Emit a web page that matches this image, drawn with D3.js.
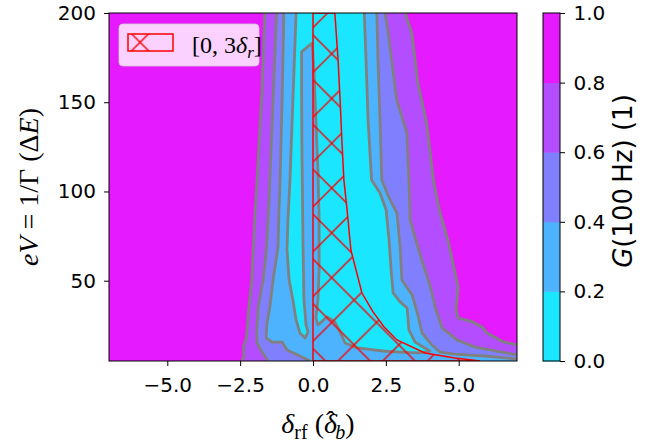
<!DOCTYPE html>
<html>
<head>
<meta charset="utf-8">
<script src="https://cdn.jsdelivr.net/npm/d3@7"></script>
<style>
	body { margin: 0; background: #fff; }
	.serif { font-family: "Liberation Serif", "DejaVu Serif", serif; }
</style>
</head>
<body>
<div id="chart-area"></div>
<script>

// contour levels of G(100 Hz)
const levels = [0, 0.2, 0.4, 0.6, 0.8, 1.0];

// contour lines, as [delta_rf, eV] points (top -> bottom)
const edge08Left = [[-1.65,200],[-1.75,156.9],[-1.92,106.4],[-1.99,87.9],[-2.05,68.9],[-2.10,50.4],[-2.22,31.9],[-2.28,18.4],[-2.39,12.8],[-2.37,7.8],[-2.44,5]];
const edge08Right = [[3.16,200],[3.39,188.8],[3.60,160.8],[3.90,138.4],[4.01,123.2],[4.13,106.4],[4.36,87.9],[4.63,72.8],[4.80,59.9],[4.98,46.5],[4.91,33.6],[4.98,29.1],[5.49,26.9],[5.80,24.1],[5.97,20.7],[6.52,15.8],[7,14]];

const edge06Left = [[-1.25,200],[-1.37,151.3],[-1.48,106.4],[-1.53,87.9],[-1.59,68.9],[-1.71,50.4],[-1.88,35.3],[-1.93,22.4],[-1.92,15.1],[-1.75,10],[-1.54,5]];
const edge06Right = [[2.47,200],[2.58,188.8],[2.87,151.3],[3.22,132.8],[3.29,106.4],[3.33,84],[3.73,61.6],[4.01,47.6],[4.22,33.6],[4.43,23.5],[4.94,16.8],[5.56,12.8],[6.07,11.2],[7,8.4]];

const edge04Left = [[-1.00,200],[-1.06,151.3],[-1.13,106.4],[-1.17,87.9],[-1.20,68.9],[-1.37,50.4],[-1.48,35.3],[-1.58,26.3],[-1.61,17.9],[-1.41,15.6],[-1.06,15.6],[-0.89,11.2],[-0.45,7.8],[-0.10,5]];
const edge04Right = [[2.19,200],[2.23,173.7],[2.30,140],[2.36,106.4],[2.57,98],[2.88,87.9],[2.99,68.9],[3.05,50.4],[3.40,42],[3.60,30.8],[3.74,20.7],[4.08,14],[4.36,10],[4.87,8.9],[5.90,7.8],[7,6.1]];

// the 0.2 line is one piece: down the left, round the finger, along the bottom and back up
const edge02 = [[-0.58,200],[-0.69,151.3],[-0.79,106.4],[-0.86,84],[-0.89,67.2],[-0.82,50.4],[-0.69,39.2],[-0.58,28],[-0.45,20.7],[-0.27,17.9],[-0.17,21.3],[-0.24,25.2],[-0.31,39.2],[-0.34,67.2],[-0.36,95.2],[-0.38,123.2],[-0.39,151.3],[-0.39,178.2],[-0.03,183.2],[0.03,168.1],[0.10,140],[0.17,112],[0.21,84],[0.21,56],[0.17,39.2],[0.10,29.1],[0.17,25.2],[0.48,29.7],[0.75,26.9],[0.93,21.3],[1.10,15.1],[1.51,12.3],[2.40,10.6],[2.99,10],[3.67,9.5],[4.01,10.6],[3.84,12.3],[3.50,15.6],[3.29,22.4],[3.23,34.7],[2.99,38.1],[2.75,43.1],[2.68,56],[2.61,72.8],[2.51,89.6],[2.30,99.1],[2.01,106.4],[1.89,140],[1.82,173.7],[1.76,200]];

// hatched band [0, 3 delta_r]
const hatchEV = [200, 173.7, 151.3, 128.8, 106.4, 89.6, 67.2, 43.1, 32.5, 24.1, 16.8, 9.5, 6.7, 5];
const hatchRight = [0.75, 0.86, 0.93, 0.99, 1.06, 1.17, 1.30, 1.68, 2.06, 2.44, 2.88, 3.84, 4.87, 5.73];

const xTicks = [-5, -2.5, 0, 2.5, 5];
const yTicks = [50, 100, 150, 200];
const cbTicks = [0, 0.2, 0.4, 0.6, 0.8, 1.0];

let fullWidth = 664, fullHeight = 445;
let margin = {top: 13, right: 147, bottom: 84, left: 109};
let width = fullWidth - margin.left - margin.right;
let height = fullHeight - margin.top - margin.bottom;

let svg = d3.select("#chart-area").append("svg")
		.attr("width", fullWidth)
		.attr("height", fullHeight);
let g = svg.append("g")
		.attr("transform", "translate(" + margin.left + "," + margin.top + ")");

let x = d3.scaleLinear().domain([-7, 7]).range([0, width]);
let y = d3.scaleLinear().domain([5, 200]).range([height, 0]);

// matplotlib "cool", sampled at the middle of each band
let cool = d3.interpolateRgb("#00ffff", "#ff00ff");
let bandColor = i => cool((levels[i] + levels[i + 1]) / 2);

// hatch pattern (x), anchored to the figure like matplotlib does
let hatchStep = 44.8;
let pattern = svg.append("defs").append("pattern")
	.attr("id", "hatch")
	.attr("patternUnits", "userSpaceOnUse")
	.attr("width", hatchStep)
	.attr("height", hatchStep)
	.attr("x", 18.1 - margin.left)
	.attr("y", 8.9 - margin.top);
pattern.append("path")
	.attr("d", `M-2,-2L${hatchStep + 2},${hatchStep + 2}M${hatchStep + 2},-2L-2,${hatchStep + 2}`)
	.attr("stroke", "red")
	.attr("stroke-width", 1.4)
	.attr("fill", "none");

g.append("clipPath").attr("id", "plot-clip")
	.append("rect").attr("width", width).attr("height", height);

let plot = g.append("g").attr("clip-path", "url(#plot-clip)");

// top band fills the whole axes, lower bands are painted inside
plot.append("rect")
	.attr("width", width)
	.attr("height", height)
	.attr("fill", bandColor(levels.length - 2));

let line = d3.line().x(d => x(d[0])).y(d => y(d[1]));

let contours = [
	{level: 0.8, left: edge08Left, right: edge08Right},
	{level: 0.6, left: edge06Left, right: edge06Right},
	{level: 0.4, left: edge04Left, right: edge04Right},
	{level: 0.2, left: edge02, right: []}
];

contours.forEach(c => {
	let pts = c.left.slice();
	let right = c.right.slice().reverse();
	let lastLeft = c.left[c.left.length - 1];
	if (right.length && lastLeft[1] === y.domain()[0] && right[0][0] === x.domain()[1]) {
		pts.push([x.domain()[1], y.domain()[0]]);
	}
	pts = pts.concat(right);
	plot.append("path")
		.attr("d", line(pts) + "Z")
		.attr("fill", bandColor(levels.indexOf(c.level) - 1));
});

contours.forEach(c => {
	[c.left, c.right].filter(a => a.length).forEach(a => {
		plot.append("path")
			.attr("d", line(a))
			.attr("fill", "none")
			.attr("stroke", "#808080")
			.attr("stroke-width", 2.8)
			.attr("stroke-linejoin", "round");
	});
});

// hatched region between 0 and 3 delta_r
let hatchData = hatchEV.map((v, i) => ({eV: v, hi: hatchRight[i]}));
let area = d3.area()
	.y(d => y(d.eV))
	.x0(x(0))
	.x1(d => x(d.hi));

plot.append("path")
	.attr("d", area(hatchData))
	.attr("fill", "url(#hatch)")
	.attr("stroke", "red")
	.attr("stroke-width", 1.5);

// axes
let tickFont = g => g.selectAll("text")
	.attr("font-family", "DejaVu Sans")
	.attr("font-size", 20)
	.attr("fill", "#000");

let xAxisGroup = g.append("g")
	.attr("transform", "translate(0," + height + ")")
	.call(d3.axisBottom(x).tickValues(xTicks).tickFormat(d3.format(".1f")).tickSize(5).tickPadding(11.5))
	.call(tickFont);
xAxisGroup.select(".domain").remove();

let yAxisGroup = g.append("g")
	.call(d3.axisLeft(y).tickValues(yTicks).tickFormat(d3.format("d")).tickSize(5).tickPadding(8))
	.call(tickFont);
yAxisGroup.select(".domain").remove();

g.append("rect")
	.attr("width", width)
	.attr("height", height)
	.attr("fill", "none")
	.attr("stroke", "#000")
	.attr("stroke-width", 1);

// colorbar
let cbX = 434, cbW = 17;
let cy = d3.scaleLinear().domain([0, 1]).range([height, 0]);
let cb = g.append("g").attr("transform", "translate(" + cbX + ",0)");

cb.selectAll("rect.band")
	.data(d3.range(levels.length - 1))
	.join("rect")
	.attr("class", "band")
	.attr("x", 0)
	.attr("width", cbW)
	.attr("y", i => cy(levels[i + 1]))
	.attr("height", i => cy(levels[i]) - cy(levels[i + 1]) + 0.5)
	.attr("fill", bandColor);

cb.append("rect")
	.attr("width", cbW)
	.attr("height", height)
	.attr("fill", "none")
	.attr("stroke", "#000")
	.attr("stroke-width", 1);

let cbAxis = cb.append("g")
	.attr("transform", "translate(" + cbW + ",0)")
	.call(d3.axisRight(cy).tickValues(cbTicks).tickFormat(d3.format(".1f")).tickSize(5).tickPadding(8.5))
	.call(tickFont);
cbAxis.select(".domain").remove();

// colorbar label
let cbLabel = svg.append("text")
	.attr("transform", "translate(632,181) rotate(-90)")
	.attr("text-anchor", "middle")
	.attr("font-family", "DejaVu Sans")
	.attr("font-size", 26);
cbLabel.append("tspan").attr("font-style", "italic").text("G");
cbLabel.append("tspan").text("(100\u2009Hz) (1)");

// x label (hat placed by hand over the second delta)
let xLabel = svg.append("text")
	.attr("class", "serif")
	.attr("x", 318)
	.attr("y", 433)
	.attr("text-anchor", "middle")
	.attr("font-size", 28);
xLabel.append("tspan").attr("font-style", "italic").text("δ");
xLabel.append("tspan").attr("font-size", 20).attr("dy", 6).text("rf");
xLabel.append("tspan").attr("dy", -6).text(" (");
xLabel.append("tspan").attr("font-style", "italic").text("δ");
xLabel.append("tspan").attr("dx", -11).attr("dy", -3).text("\u02C6");
xLabel.append("tspan").attr("font-style", "italic").attr("font-size", 20).attr("dx", 0).attr("dy", 9).text("b");
xLabel.append("tspan").attr("dy", -6).text(")");

// y label
let yLabel = svg.append("text")
	.attr("class", "serif")
	.attr("transform", "translate(38,187) rotate(-90)")
	.attr("text-anchor", "middle")
	.attr("font-size", 28);
yLabel.append("tspan").attr("font-style", "italic").text("eV");
yLabel.append("tspan").text(" = 1/Γ (Δ");
yLabel.append("tspan").attr("font-style", "italic").text("E");
yLabel.append("tspan").text(")");

// legend
let legend = g.append("g").attr("transform", "translate(10,11)");
legend.append("rect")
	.attr("width", 140)
	.attr("height", 42)
	.attr("rx", 4)
	.attr("fill", "#fff")
	.attr("fill-opacity", 0.8)
	.attr("stroke", "#ccc")
	.attr("stroke-opacity", 0.8);
legend.append("rect")
	.attr("x", 9)
	.attr("y", 10)
	.attr("width", 45)
	.attr("height", 17)
	.attr("fill", "url(#hatch)")
	.attr("stroke", "red")
	.attr("stroke-width", 1.5);

let legendText = legend.append("text")
	.attr("class", "serif")
	.attr("x", 73)
	.attr("y", 29)
	.attr("font-size", 24);
legendText.append("tspan").text("[0, 3");
legendText.append("tspan").attr("font-style", "italic").text("δ");
legendText.append("tspan").attr("font-style", "italic").attr("font-size", 17).attr("dy", 5).text("r");
legendText.append("tspan").attr("dy", -5).text("]");

</script>
</body>
</html>
